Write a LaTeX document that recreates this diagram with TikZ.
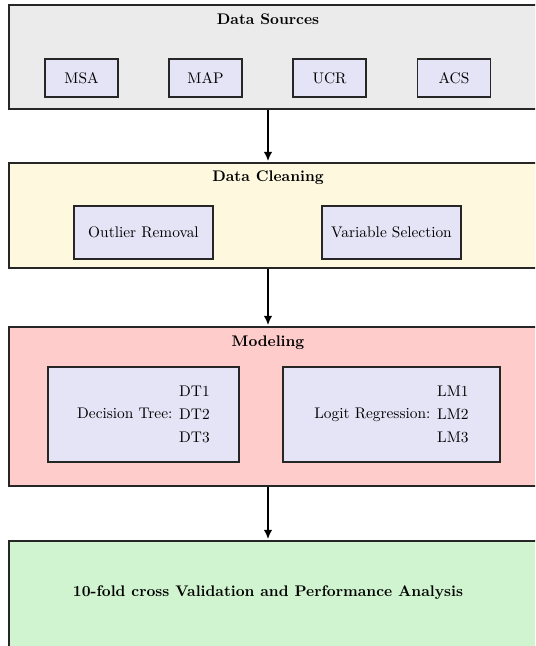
\documentclass[tikz,border=0pt]{standalone}
\usetikzlibrary{arrows.meta}
\definecolor{dsgray}{HTML}{EBEBEB}
\definecolor{dcyellow}{HTML}{FEF9DE}
\definecolor{mdpink}{HTML}{FFCCCC}
\definecolor{vagreen}{HTML}{D0F4CF}
\definecolor{innerblue}{HTML}{E4E4F6}
\def\pxu{0.65pt}
\begin{document}
\begin{tikzpicture}[x=0.65pt,y=-0.65pt,
  outerbox/.style={draw=black!85,line width=0.85pt,inner sep=0pt,rectangle},
  innerbox/.style={draw=black!85,line width=0.85pt,fill=innerblue,inner sep=0pt,rectangle,align=center},
  titletext/.style={font=\bfseries,inner sep=0pt},
  flowarrow/.style={line width=1.1pt,-{Latex[length=6pt,width=5.5pt]}}]
\useasboundingbox (0,0) rectangle (535,646);
\begin{scope}
\clip (0,0) rectangle (535,646);
% outer boxes
\node[outerbox,fill=dsgray,minimum width=541*\pxu,minimum height=104*\pxu] (ds) at (279.5,57) {};
\node[outerbox,fill=dcyellow,minimum width=541*\pxu,minimum height=105*\pxu] (dc) at (279.5,215.5) {};
\node[outerbox,fill=mdpink,minimum width=541*\pxu,minimum height=159*\pxu] (md) at (279.5,406.5) {};
\node[outerbox,fill=vagreen,minimum width=541*\pxu,minimum height=159*\pxu] (va) at (279.5,620.5) {};
% titles
\node[titletext] (dst) at (268,19) {Data Sources};
\node[titletext] (dct) at (268,178) {Data Cleaning};
\node[titletext] (mdt) at (268,343) {Modeling};
\node[titletext] (vat) at (268,593) {10-fold cross Validation and Performance Analysis};
% data sources
\node[innerbox,minimum width=73*\pxu,minimum height=38*\pxu] (msa) at (81.5,78) {MSA};
\node[innerbox,minimum width=73*\pxu,minimum height=38*\pxu] (map) at (205.5,78) {MAP};
\node[innerbox,minimum width=73*\pxu,minimum height=38*\pxu] (ucr) at (329.5,78) {UCR};
\node[innerbox,minimum width=73*\pxu,minimum height=38*\pxu] (acs) at (454,78) {ACS};
% data cleaning
\node[innerbox,minimum width=139*\pxu,minimum height=53*\pxu] (outl) at (143.5,232.5) {Outlier Removal};
\node[innerbox,minimum width=139*\pxu,minimum height=53*\pxu] (vsel) at (391.5,232.5) {Variable Selection};
% modeling
\node[innerbox,minimum width=191*\pxu,minimum height=95*\pxu] (dt) at (143.5,414.5)
  {Decision Tree: {\renewcommand{\arraystretch}{1.25}\begin{tabular}{@{}l@{}}DT1\\DT2\\DT3\end{tabular}}};
\node[innerbox,minimum width=217*\pxu,minimum height=95*\pxu] (lm) at (391.5,414.5)
  {Logit Regression: {\renewcommand{\arraystretch}{1.25}\begin{tabular}{@{}l@{}}LM1\\LM2\\LM3\end{tabular}}};
% arrows
\coordinate (ax) at (268,0);
\draw[flowarrow] (ds.south -| ax) -- ([yshift=0.8pt]dc.north -| ax);
\draw[flowarrow] (dc.south -| ax) -- ([yshift=0.8pt]md.north -| ax);
\draw[flowarrow] (md.south -| ax) -- ([yshift=0.8pt]va.north -| ax);
\end{scope}
\end{tikzpicture}
\end{document}
